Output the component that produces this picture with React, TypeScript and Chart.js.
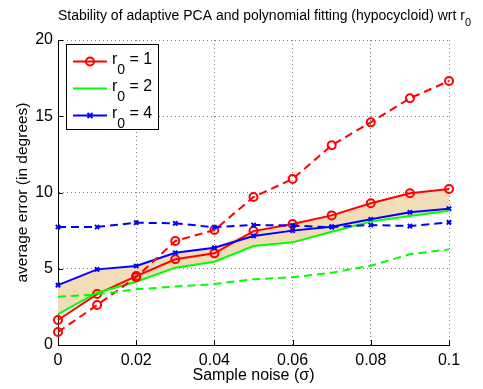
import React, { useEffect, useRef } from 'react';
import { Chart, registerables } from 'chart.js';
Chart.register(...registerables);

const noise = [0, 0.01, 0.02, 0.03, 0.04, 0.05, 0.06, 0.07, 0.08, 0.09, 0.1];
const r1Adaptive = [1.64, 3.34, 4.52, 5.62, 6.01, 7.47, 7.93, 8.5, 9.29, 9.95, 10.23];
const r2Adaptive = [2.03, 3.43, 4.15, 5.07, 5.46, 6.49, 6.73, 7.43, 8.09, 8.46, 8.81];
const r4Adaptive = [3.93, 4.96, 5.18, 6.05, 6.38, 7.15, 7.5, 7.76, 8.24, 8.7, 8.94];
const r1Poly = [0.85, 2.62, 4.45, 6.82, 7.54, 9.7, 10.89, 13.1, 14.6, 16.18, 17.31];
const r2Poly = [3.17, 3.32, 3.65, 3.83, 4.0, 4.31, 4.44, 4.74, 5.2, 5.95, 6.27];
const r4Poly = [7.74, 7.74, 8.02, 7.98, 7.72, 7.87, 7.83, 7.72, 7.87, 7.8, 8.04];
const xTicks = [0, 0.02, 0.04, 0.06, 0.08, 0.1];
const yTicks = [0, 5, 10, 15, 20];
const legendItems = [
  { sub: '0', value: '1', color: '#ff0000', marker: 'circle' },
  { sub: '0', value: '2', color: '#00ff00', marker: 'none' },
  { sub: '0', value: '4', color: '#0000ff', marker: 'cross' },
];

const FONT = '"Liberation Sans", Arial, Helvetica, sans-serif';

const pts = (ys: number[]) => ys.map((y, i) => ({ x: noise[i], y }));

export default function App() {
  const ref = useRef<HTMLCanvasElement | null>(null);
  useEffect(() => {
    const canvas = ref.current;
    if (!canvas) return;
    const upper = r1Adaptive.map((v, i) => Math.max(v, r4Adaptive[i]));
    const lower = r2Adaptive;

    const overlay = {
      id: 'overlay',
      afterDraw(chart: any) {
        const ctx = chart.ctx as CanvasRenderingContext2D;
        const area = chart.chartArea;
        const xs = chart.scales.x;
        const ys = chart.scales.y;
        ctx.save();
        // inward ticks
        ctx.strokeStyle = '#000';
        ctx.lineWidth = 1;
        ctx.beginPath();
        xTicks.forEach((t) => {
          const px = Math.round(xs.getPixelForValue(t)) + 0.5;
          ctx.moveTo(px, area.bottom);
          ctx.lineTo(px, area.bottom - 5);
        });
        yTicks.forEach((t) => {
          const py = Math.round(ys.getPixelForValue(t)) + 0.5;
          ctx.moveTo(area.left, py);
          ctx.lineTo(area.left + 5, py);
        });
        ctx.stroke();

        // title
        const main = 'Stability of adaptive PCA and polynomial fitting (hypocycloid) wrt r';
        ctx.fillStyle = '#000';
        ctx.textBaseline = 'alphabetic';
        ctx.textAlign = 'left';
        ctx.font = `14px ${FONT}`;
        const w1 = ctx.measureText(main).width;
        ctx.font = `11px ${FONT}`;
        const w2 = ctx.measureText('0').width;
        const cx = (area.left + area.right) / 2 + 11;
        const sx = cx - (w1 + w2) / 2;
        ctx.font = `14px ${FONT}`;
        ctx.fillText(main, sx, 19.5);
        ctx.font = `11px ${FONT}`;
        ctx.fillText('0', sx + w1, 26);

        // legend
        const bx = 66.5, by = 44.5, bw = 92, bh = 85;
        ctx.fillStyle = '#fff';
        ctx.fillRect(bx, by, bw, bh);
        ctx.strokeStyle = '#000';
        ctx.lineWidth = 1;
        ctx.strokeRect(bx, by, bw, bh);
        legendItems.forEach((it, i) => {
          const ly = 61.5 + i * 27;
          ctx.strokeStyle = it.color;
          ctx.lineWidth = 2;
          ctx.beginPath();
          ctx.moveTo(73, ly);
          ctx.lineTo(107, ly);
          ctx.stroke();
          const mx = 90;
          if (it.marker === 'circle') {
            ctx.beginPath();
            ctx.arc(mx, ly, 4, 0, Math.PI * 2);
            ctx.stroke();
          } else if (it.marker === 'cross') {
            ctx.beginPath();
            const r = 2.5;
            ctx.moveTo(mx - r, ly - r);
            ctx.lineTo(mx + r, ly + r);
            ctx.moveTo(mx - r, ly + r);
            ctx.lineTo(mx + r, ly - r);
            ctx.stroke();
          }
          ctx.fillStyle = '#000';
          ctx.font = `16px ${FONT}`;
          const tx = 112;
          const base = ly + 2;
          ctx.fillText('r', tx, base);
          const rw = ctx.measureText('r').width;
          ctx.font = `14px ${FONT}`;
          ctx.fillText(it.sub, tx + rw, base + 10);
          const sw = ctx.measureText(it.sub).width;
          ctx.font = `16px ${FONT}`;
          ctx.fillText(' = ' + it.value, tx + rw + sw, base);
        });
        ctx.restore();
      },
    };

    const common = { clip: false as any, borderWidth: 2, order: 0 };
    const chart = new Chart(canvas, {
      type: 'line',
      data: {
        datasets: [
          {
            data: pts(upper),
            borderWidth: 0,
            pointRadius: 0,
            backgroundColor: 'rgb(242,221,184)',
            fill: '+1',
            order: 10,
          } as any,
          {
            data: pts(lower),
            borderWidth: 0,
            pointRadius: 0,
            fill: false,
            order: 10,
          },
          { ...common, data: pts(r2Poly), borderColor: '#00ff00', borderDash: [8, 5], pointRadius: 0 },
          { ...common, data: pts(r4Poly), borderColor: '#0000ff', borderDash: [8, 5], pointStyle: 'crossRot', pointRadius: 3, pointBorderColor: '#0000ff', pointBorderWidth: 2 },
          { ...common, data: pts(r1Poly), borderColor: '#ff0000', borderDash: [8, 5], pointStyle: 'circle', pointRadius: 4, pointBorderColor: '#ff0000', pointBackgroundColor: 'rgba(0,0,0,0)', pointBorderWidth: 2 },
          { ...common, data: pts(r2Adaptive), borderColor: '#00ff00', pointRadius: 0 },
          { ...common, data: pts(r4Adaptive), borderColor: '#0000ff', pointStyle: 'crossRot', pointRadius: 3, pointBorderColor: '#0000ff', pointBorderWidth: 2 },
          { ...common, data: pts(r1Adaptive), borderColor: '#ff0000', pointStyle: 'circle', pointRadius: 4, pointBorderColor: '#ff0000', pointBackgroundColor: 'rgba(0,0,0,0)', pointBorderWidth: 2 },
        ] as any,
      },
      options: {
        animation: false,
        responsive: false,
        events: [],
        layout: { padding: { top: 40, right: 34, left: 0, bottom: 0 } },
        elements: { line: { tension: 0 } },
        plugins: { legend: { display: false }, tooltip: { enabled: false }, title: { display: false } },
        scales: {
          x: {
            type: 'linear',
            min: 0,
            max: 0.1,
            afterFit: (s: any) => { s.height = 44; },
            afterBuildTicks: (s: any) => { s.ticks = xTicks.map((v) => ({ value: v })); },
            ticks: {
              color: '#000',
              font: { family: FONT, size: 16 },
              padding: 6,
              maxRotation: 0,
              callback: (v: any) => String(Number(Number(v).toFixed(2))),
            },
            grid: { color: 'rgba(0,0,0,0.5)', drawTicks: false, lineWidth: 1 },
            border: { display: true, color: '#000', width: 1, dash: [1, 3] },
            title: { display: true, text: 'Sample noise (σ)', color: '#000', font: { family: FONT, size: 16 }, padding: { top: 0, bottom: 4 } },
          },
          y: {
            type: 'linear',
            min: 0,
            max: 20,
            afterFit: (s: any) => { s.width = 58; },
            afterBuildTicks: (s: any) => { s.ticks = yTicks.map((v) => ({ value: v })); },
            ticks: { color: '#000', font: { family: FONT, size: 16 }, padding: 5 },
            grid: { color: 'rgba(0,0,0,0.5)', drawTicks: false, lineWidth: 1 },
            border: { display: true, color: '#000', width: 1, dash: [1, 3] },
            title: { display: true, text: 'average error (in degrees)', color: '#000', font: { family: FONT, size: 15.5 }, padding: { top: 13, bottom: 0 } },
          },
        },
      },
      plugins: [overlay],
    } as any);
    return () => chart.destroy();
  }, []);
  return (
    <div style={{ position: 'fixed', left: 0, top: 0, width: 483, height: 389, background: '#fff' }}>
      <canvas ref={ref} width={483} height={389} style={{ display: 'block', width: 483, height: 389 }} />
    </div>
  );
}
